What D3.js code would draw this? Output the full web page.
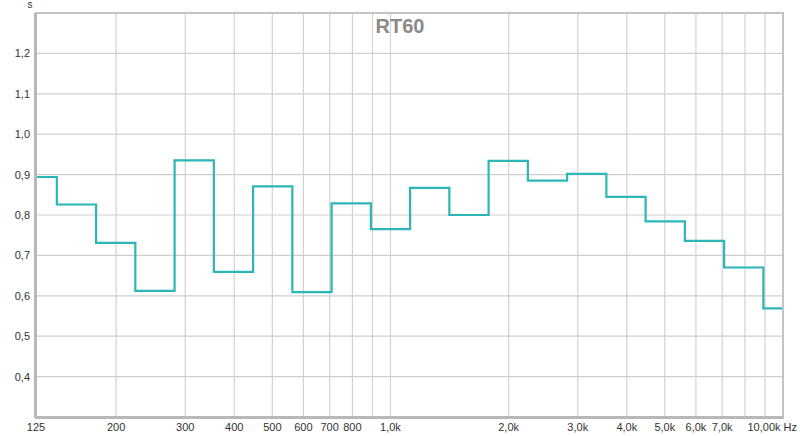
<!DOCTYPE html>
<html><head><meta charset="utf-8">
<script src="https://cdn.jsdelivr.net/npm/d3@7"></script>
<style>body{margin:0;background:#fff}svg{display:block}text{font-family:"Liberation Sans",Arial,sans-serif}</style>
</head><body><svg id="c" width="800" height="436"></svg>
<script>
// exact 1/3-octave (base-ten) band centres, Hz
const bandCenters = [125.89,158.49,199.53,251.19,316.23,398.11,501.19,630.96,794.33,1000,1258.9,1584.9,1995.3,2511.9,3162.3,3981.1,5011.9,6309.6,7943.3,10000];
const rt60 = [0.894,0.826,0.731,0.612,0.935,0.659,0.871,0.609,0.829,0.765,0.867,0.800,0.934,0.885,0.902,0.845,0.784,0.736,0.670,0.569];
const xGrid = [200,300,400,500,600,700,800,900,1000,2000,3000,4000,5000,6000,7000,8000,9000];
const xTickVals = [125,200,300,400,500,600,700,800,1000,2000,3000,4000,5000,6000,7000];
const xTickLabels = ["125","200","300","400","500","600","700","800","1,0k","2,0k","3,0k","4,0k","5,0k","6,0k","7,0k"];
const yTicks = [0.4,0.5,0.6,0.7,0.8,0.9,1.0,1.1,1.2];

const svg = d3.select("#c");
const L=36, R=783, T=13, B=417;
const x = d3.scaleLog().domain([125,10000]).range([L,R]);
const y = d3.scaleLinear().domain([0.3,1.3]).range([B,T]);

// grid
svg.append("g").selectAll("line").data(xGrid).join("line")
  .attr("x1",d=>x(d)).attr("x2",d=>x(d)).attr("y1",T).attr("y2",B)
  .attr("stroke","#d2d2d2").attr("stroke-width",1.2);
svg.append("g").selectAll("line").data(yTicks).join("line")
  .attr("x1",L).attr("x2",R).attr("y1",d=>y(d)).attr("y2",d=>y(d))
  .attr("stroke","#cfcfcf").attr("stroke-width",1.2);

// step line
const pts = [];
const half = Math.pow(10,0.05);
bandCenters.forEach((f,i)=>{
  const lo = Math.max(125, f/half), hi = Math.min(10000, f*half);
  pts.push([lo, rt60[i]]); pts.push([hi, rt60[i]]);
});
svg.append("clipPath").attr("id","cp").append("rect").attr("x",L).attr("y",T).attr("width",R-L).attr("height",B-T);
svg.append("path").datum(pts).attr("clip-path","url(#cp)")
  .attr("d", d3.line().x(d=>x(d[0])).y(d=>y(d[1])))
  .attr("fill","none").attr("stroke","#2db6b6").attr("stroke-width",2.2).attr("stroke-linejoin","miter");

// border
svg.append("rect").attr("x",L).attr("y",T).attr("width",R-L).attr("height",B-T)
  .attr("fill","none").attr("stroke","#c4c4c4").attr("stroke-width",2);
svg.append("line").attr("x1",L-0.5).attr("x2",L-0.5).attr("y1",T).attr("y2",B+1).attr("stroke","#b8b8b8").attr("stroke-width",3);
svg.append("line").attr("x1",L-1).attr("x2",R+1).attr("y1",B+0.5).attr("y2",B+0.5).attr("stroke","#b8b8b8").attr("stroke-width",3);

// y labels
svg.append("g").selectAll("text").data(yTicks).join("text")
  .attr("x",30).attr("y",d=>y(d)+4).attr("text-anchor","end")
  .attr("font-size",11).attr("fill","#333").text(d=>d.toFixed(1).replace(".",","));
svg.append("text").attr("x",30).attr("y",8).attr("text-anchor","middle").attr("font-size",10).attr("fill","#333").text("s");

// x labels
svg.append("g").selectAll("text").data(xTickVals).join("text")
  .attr("x",d=>x(d)).attr("y",431).attr("text-anchor","middle")
  .attr("font-size",11).attr("fill","#333").text((d,i)=>xTickLabels[i]);
svg.append("text").attr("x",797).attr("y",431).attr("text-anchor","end")
  .attr("font-size",11).attr("fill","#333").text("10,00k Hz");

// title
svg.append("text").attr("x",400).attr("y",33).attr("text-anchor","middle")
  .attr("font-size",20).attr("font-weight","bold").attr("fill","#8a8a8a").text("RT60");
</script></body></html>
